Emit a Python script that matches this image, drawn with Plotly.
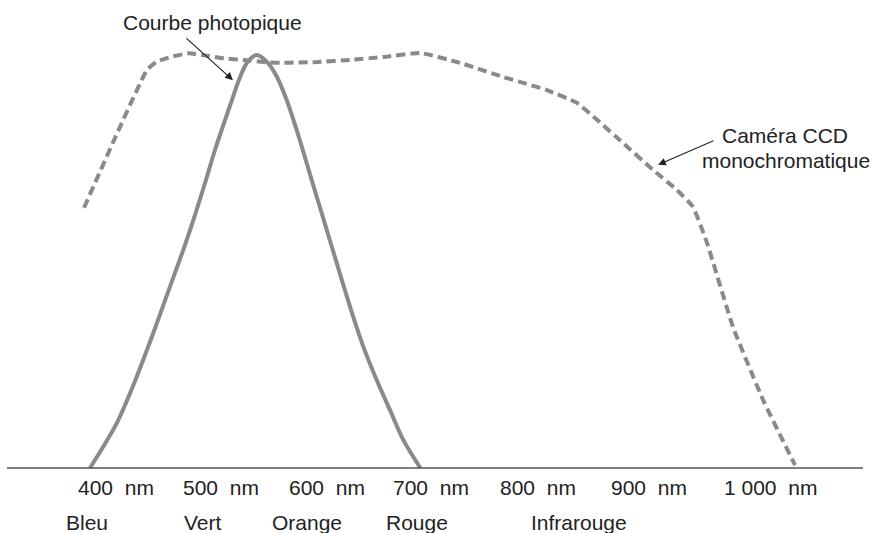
import plotly.graph_objects as go

# Photopic curve (relative sensitivity vs wavelength, nm)
photopic_nm = [400, 412.1, 424.2, 436.3, 448.3, 460.5, 472.5, 484.6, 493.7, 504.3, 513.3,
               521.5, 528.7, 535.1, 542.3, 551.1,
               560.2, 569.3, 578.3, 587.4, 596.5, 601.0, 610.1, 623.7, 635.7, 647.8,
               659.9, 672.0, 684.0, 699.5]
photopic_val = [0.0, 0.052, 0.108, 0.181, 0.262, 0.350, 0.439, 0.528, 0.600, 0.690, 0.770,
                0.835, 0.891, 0.940, 0.981, 1.0,
                0.984, 0.948, 0.891, 0.818, 0.738, 0.697, 0.617, 0.496, 0.391, 0.294,
                0.213, 0.140, 0.068, 0.0]

# Monochrome CCD camera curve
ccd_nm = [394.6, 423.5, 451.7, 460.5, 474.1, 489.2, 506.1, 521.3, 538.8, 562.0, 575.0,
          586.9, 605.8, 635.7, 665.6, 699.2, 735.4, 774.4, 814.3, 841.5, 859.7, 883.2,
          910.4, 932.2, 946.7, 959.4, 983.0, 1010.2, 1039.2]
ccd_val = [0.630, 0.804, 0.964, 0.984, 0.996, 1.004, 0.998, 0.992, 0.988, 0.982, 0.981,
           0.982, 0.983, 0.988, 0.995, 1.005, 0.981, 0.947, 0.915, 0.884, 0.843, 0.787,
           0.722, 0.673, 0.632, 0.545, 0.341, 0.165, 0.007]

tick_labels = ["400\u00a0 nm", "500\u00a0 nm", "600\u00a0 nm", "700\u00a0 nm",
               "800\u00a0 nm", "900\u00a0 nm", "1 000\u00a0 nm"]
tick_label_x = [423.6, 518.8, 614.9, 709.2, 806.2, 906.8, 1016.5]

color_names = ["Bleu", "Vert", "Orange", "Rouge", "Infrarouge"]
color_name_x = [397.3, 502.4, 596.7, 696.5, 842.9]

FONT = "Liberation Sans, Arial, Helvetica, sans-serif"
TXT = "#222222"
GRAY = "#8a8a8a"

fig = go.Figure()
fig.add_trace(go.Scatter(x=ccd_nm, y=ccd_val, mode="lines",
                         line=dict(color=GRAY, width=4, dash="9px,5px", shape="spline", smoothing=0.4),
                         hoverinfo="skip", showlegend=False))
fig.add_trace(go.Scatter(x=photopic_nm, y=photopic_val, mode="lines",
                         line=dict(color=GRAY, width=4, shape="spline", smoothing=0.8),
                         hoverinfo="skip", showlegend=False))

# baseline axis
fig.add_shape(type="line", xref="paper", yref="y", x0=7/871, x1=863/871, y0=0, y1=0,
              line=dict(color="#555555", width=1.6))

ann = []
for t, x in zip(tick_labels, tick_label_x):
    ann.append(dict(x=x, y=-0.0472, xref="x", yref="y", text=t, showarrow=False,
                    xanchor="center", yanchor="middle", font=dict(family=FONT, size=21, color=TXT)))
for t, x in zip(color_names, color_name_x):
    ann.append(dict(x=x, y=-0.133, xref="x", yref="y", text=t, showarrow=False,
                    xanchor="center", yanchor="middle", font=dict(family=FONT, size=21, color=TXT)))

ann.append(dict(x=511.1, y=1.0775, xref="x", yref="y", text="Courbe photopique", showarrow=False,
                xanchor="center", yanchor="middle", font=dict(family=FONT, size=21, color=TXT)))
ann.append(dict(x=1030.1, y=0.805, xref="x", yref="y", text="Caméra CCD", showarrow=False,
                xanchor="center", yanchor="middle", font=dict(family=FONT, size=21, color=TXT)))
ann.append(dict(x=1031.0, y=0.7446, xref="x", yref="y", text="monochromatique", showarrow=False,
                xanchor="center", yanchor="middle", font=dict(family=FONT, size=21, color=TXT)))

# arrows
ann.append(dict(x=529.6, y=0.939, ax=486.1, ay=1.0436, xref="x", yref="y", axref="x", ayref="y",
                text="", showarrow=True, arrowhead=2, arrowsize=1.3, arrowwidth=1.2, arrowcolor=TXT))
ann.append(dict(x=915.0, y=0.734, ax=966.6, ay=0.794, xref="x", yref="y", axref="x", ayref="y",
                text="", showarrow=True, arrowhead=2, arrowsize=1.3, arrowwidth=1.2, arrowcolor=TXT))

x0 = 400 - 90 / 1.103
x1 = x0 + 871 / 1.103
fig.update_layout(
    width=871, height=533, autosize=False,
    margin=dict(l=0, r=0, t=0, b=0),
    paper_bgcolor="white", plot_bgcolor="white",
    xaxis=dict(range=[x0, x1], visible=False, showgrid=False, zeroline=False, fixedrange=True),
    yaxis=dict(range=[-65/413, 468/413], visible=False, showgrid=False, zeroline=False, fixedrange=True),
    annotations=ann,
    showlegend=False,
    hovermode=False,
)

fig.write_html("out.html",
               config={"displayModeBar": False, "staticPlot": True},
               post_script="document.body.style.margin='0';document.body.style.overflow='hidden';")
